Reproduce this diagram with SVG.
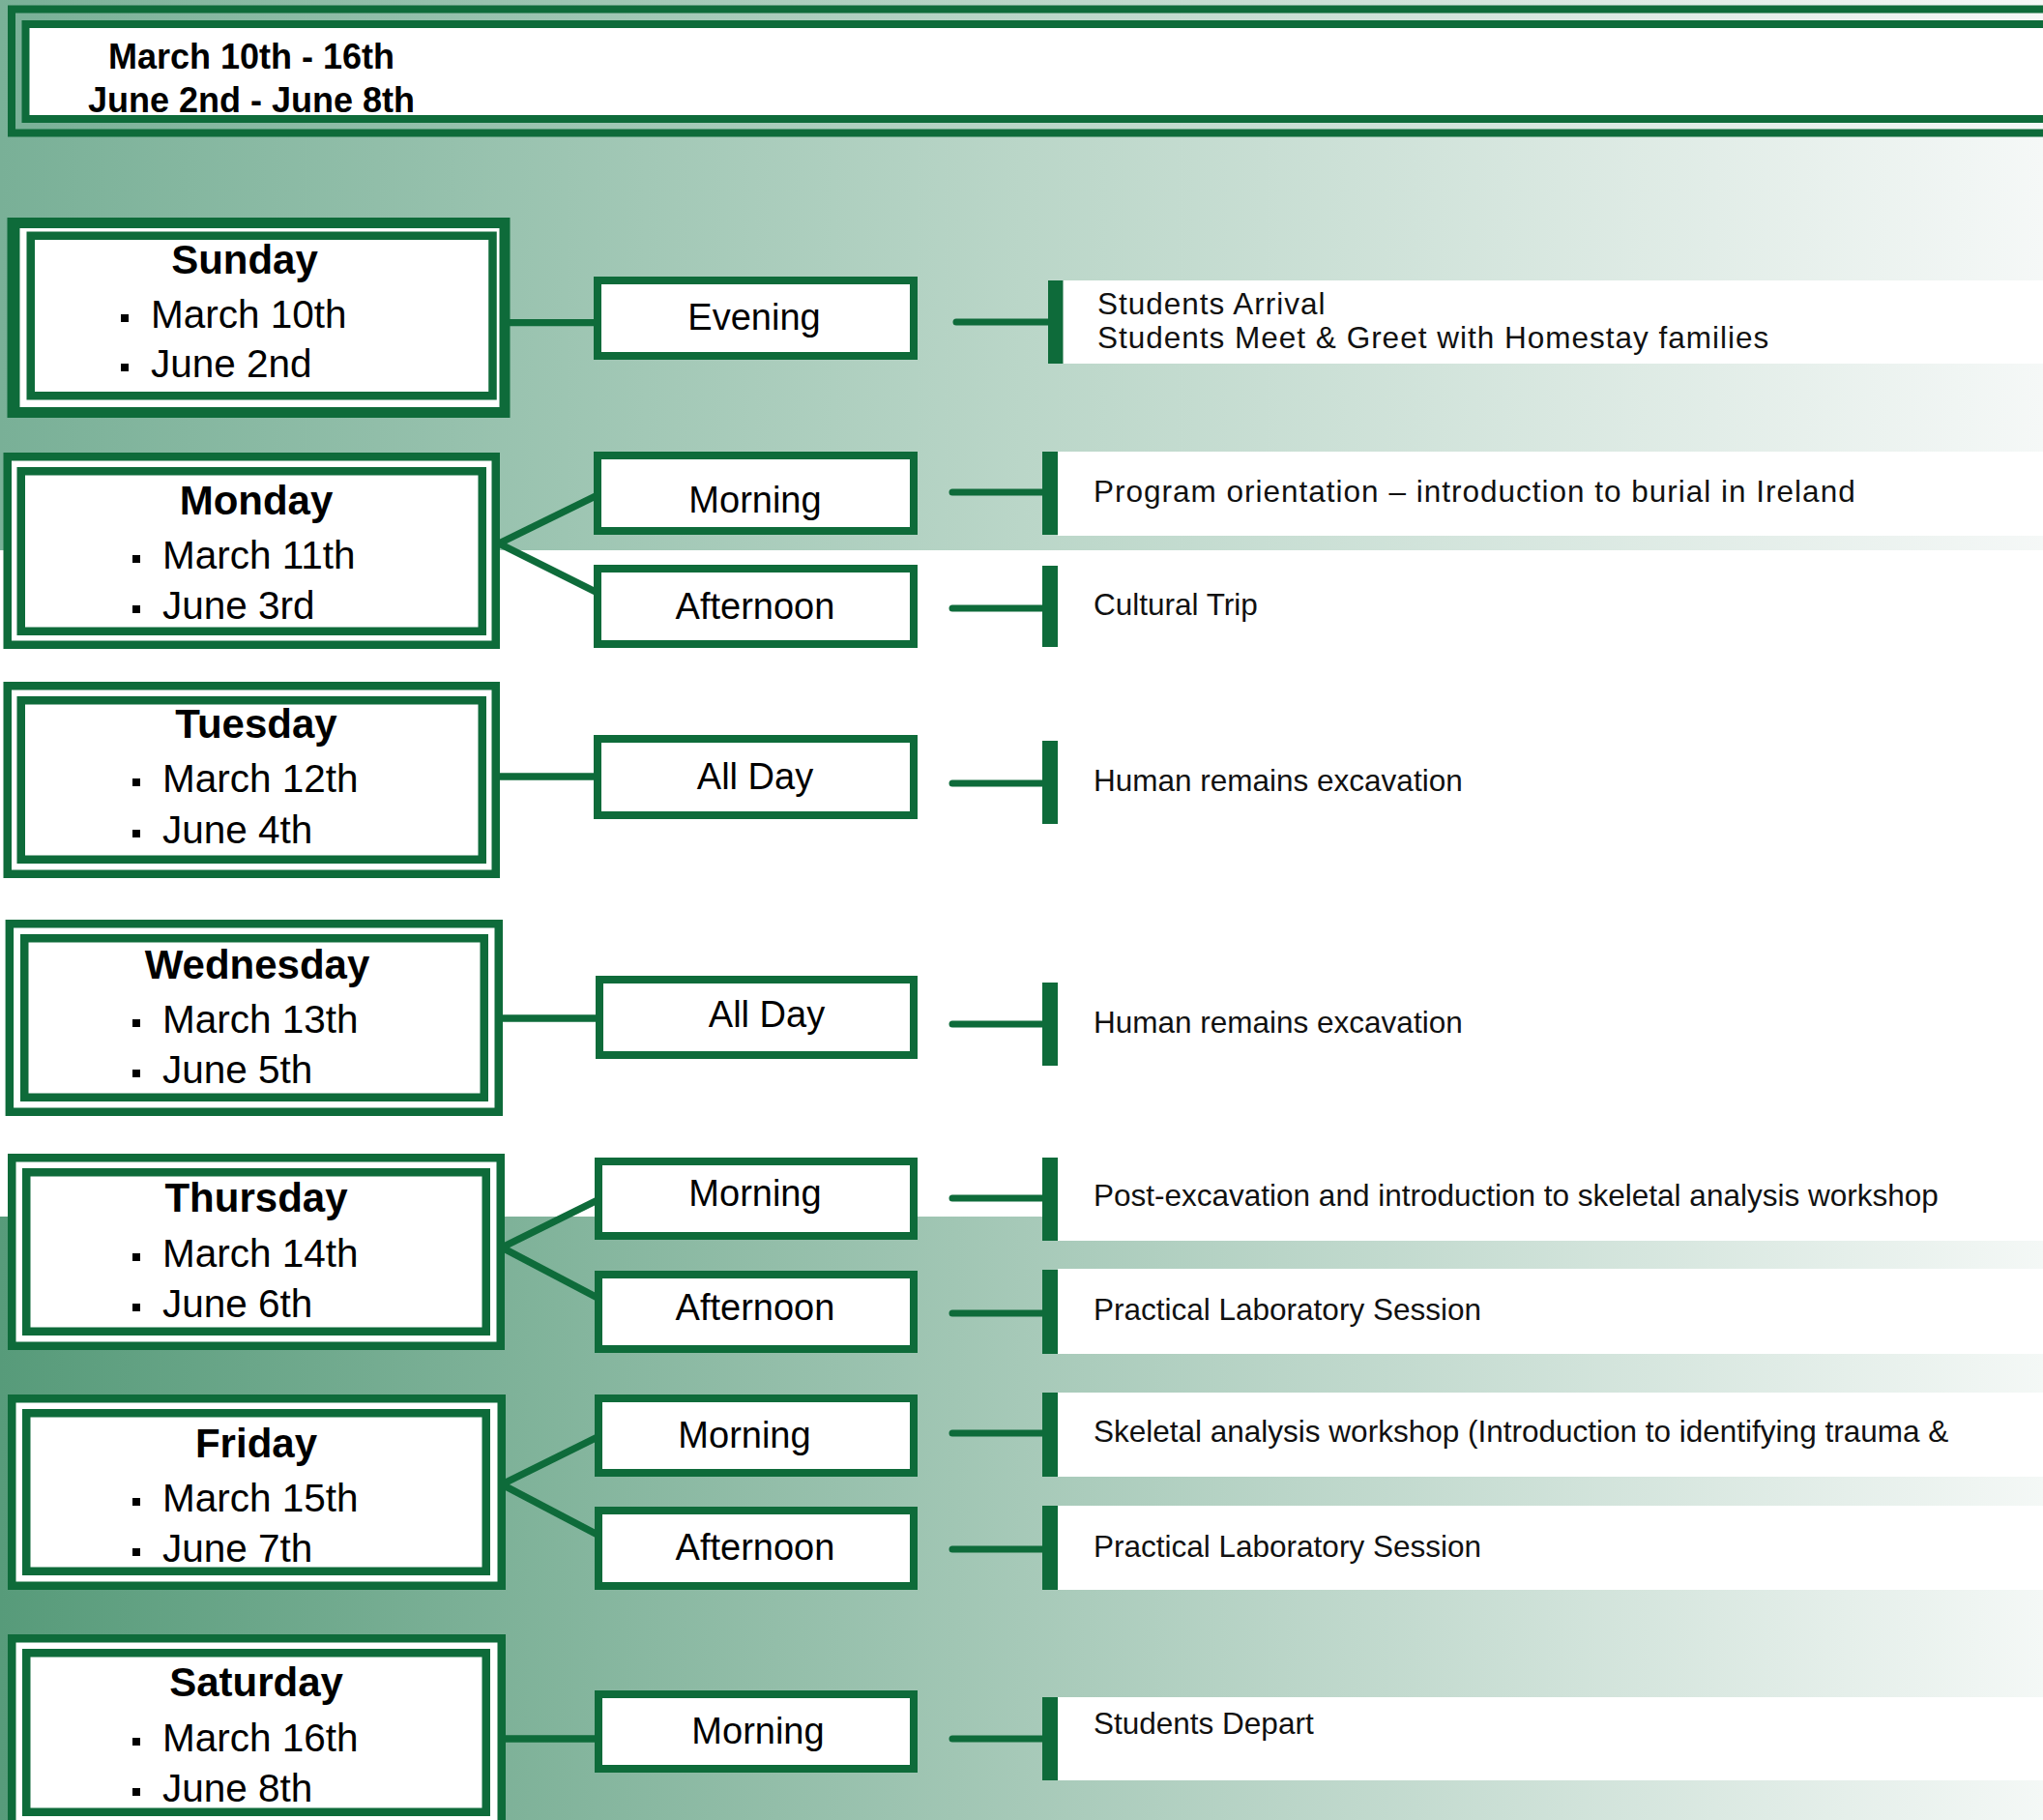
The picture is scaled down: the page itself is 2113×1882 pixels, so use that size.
<svg xmlns="http://www.w3.org/2000/svg" width="2113" height="1882" viewBox="0 0 2113 1882">
<defs>
<linearGradient id="gTop" x1="0" y1="0" x2="1" y2="0">
<stop offset="0" stop-color="#79b097"/>
<stop offset="0.5" stop-color="#bad6c8"/>
<stop offset="1" stop-color="#f5f8f7"/>
</linearGradient>
<linearGradient id="gBot" x1="0" y1="0" x2="1" y2="0">
<stop offset="0" stop-color="#579b7a"/>
<stop offset="0.5" stop-color="#a6c9b8"/>
<stop offset="1" stop-color="#f4f8f6"/>
</linearGradient>
<style>
.g{fill:#0e6b3a}
.w{fill:#ffffff}
.box{fill:#ffffff;stroke:#0e6b3a;stroke-width:8.5}
.opt{fill:#ffffff;stroke:#0e6b3a;stroke-width:8}
.day{font-family:"Liberation Sans",Arial,sans-serif;font-weight:bold;font-size:42px;text-anchor:middle;fill:#000}
.date{font-family:"Liberation Sans",Arial,sans-serif;font-size:40.5px;fill:#000}
.optt{font-family:"Liberation Sans",Arial,sans-serif;font-size:38px;text-anchor:middle;fill:#000}
.desc{font-family:"Liberation Sans",Arial,sans-serif;font-size:31.5px;fill:#111}
.head{font-family:"Liberation Sans",Arial,sans-serif;font-weight:bold;font-size:36px;text-anchor:middle;fill:#000}
.conn{stroke:#0e6b3a;stroke-width:7.3;fill:none}
.rc{stroke:#0e6b3a;stroke-width:7;fill:none;stroke-linecap:round}
.band{fill:#ffffff}
</style>
</defs>

<g id="background">
<rect x="0" y="0" width="2113" height="1882" fill="#ffffff"/>
<rect x="0" y="0" width="2113" height="569" fill="url(#gTop)"/>
<rect x="0" y="1258" width="2113" height="624" fill="url(#gBot)"/>
</g>

<g id="bands">
<rect class="band" x="1099" y="290" width="1014" height="86"/>
<rect class="band" x="1094" y="467" width="1019" height="87"/>
<rect class="band" x="1094" y="585" width="1019" height="84"/>
<rect class="band" x="1094" y="766" width="1019" height="86"/>
<rect class="band" x="1094" y="1016" width="1019" height="86"/>
<rect class="band" x="1094" y="1197" width="1019" height="86"/>
<rect class="band" x="1094" y="1312" width="1019" height="88"/>
<rect class="band" x="1094" y="1440" width="1019" height="87"/>
<rect class="band" x="1094" y="1557" width="1019" height="87"/>
<rect class="band" x="1094" y="1755" width="1019" height="86"/>
</g>

<g id="header">
<rect x="12" y="9.5" width="2200" height="128" fill="none" stroke="#0e6b3a" stroke-width="8"/>
<rect x="26.5" y="25" width="2200" height="98" fill="#ffffff" stroke="#0e6b3a" stroke-width="8"/>
<text class="head" x="260" y="71">March 10th - 16th</text>
<text class="head" x="260" y="116">June 2nd - June 8th</text>
</g>

<g id="connectors">
<line class="conn" x1="527" y1="333.7" x2="616" y2="333.7"/>
<line class="conn" x1="516" y1="562" x2="618" y2="512"/>
<line class="conn" x1="516" y1="562" x2="618" y2="613"/>
<line class="conn" x1="517" y1="803" x2="616" y2="803"/>
<line class="conn" x1="520" y1="1053" x2="618" y2="1053"/>
<line class="conn" x1="519" y1="1290" x2="618" y2="1241"/>
<line class="conn" x1="519" y1="1290" x2="618" y2="1342"/>
<line class="conn" x1="519" y1="1535" x2="618" y2="1486"/>
<line class="conn" x1="519" y1="1535" x2="618" y2="1587"/>
<line class="conn" x1="523" y1="1798" x2="617" y2="1798"/>

<line class="rc" x1="989" y1="333" x2="1088" y2="333"/>
<rect class="g" x="1084" y="290" width="15.5" height="86"/>
<line class="rc" x1="985" y1="509" x2="1082" y2="509"/>
<rect class="g" x="1078" y="467" width="16" height="86"/>
<line class="rc" x1="985" y1="629" x2="1082" y2="629"/>
<rect class="g" x="1078" y="585" width="16" height="84"/>
<line class="rc" x1="985" y1="810" x2="1082" y2="810"/>
<rect class="g" x="1078" y="766" width="16" height="86"/>
<line class="rc" x1="985" y1="1059" x2="1082" y2="1059"/>
<rect class="g" x="1078" y="1016" width="16" height="86"/>
<line class="rc" x1="985" y1="1239" x2="1082" y2="1239"/>
<rect class="g" x="1078" y="1197" width="16" height="86"/>
<line class="rc" x1="985" y1="1358" x2="1082" y2="1358"/>
<rect class="g" x="1078" y="1313" width="16" height="87"/>
<line class="rc" x1="985" y1="1482" x2="1082" y2="1482"/>
<rect class="g" x="1078" y="1440" width="16" height="87"/>
<line class="rc" x1="985" y1="1602" x2="1082" y2="1602"/>
<rect class="g" x="1078" y="1557" width="16" height="87"/>
<line class="rc" x1="985" y1="1798" x2="1082" y2="1798"/>
<rect class="g" x="1078" y="1755" width="16" height="86"/>
</g>

<g id="sunday">
<rect class="g" x="7.5" y="225" width="520" height="207"/>
<rect class="w" x="20.5" y="236" width="496" height="185"/>
<rect class="box" x="31.75" y="243.75" width="477.75" height="165.5" stroke-width="7.5"/>
<text class="day" x="253" y="283">Sunday</text>
<rect x="125" y="325" width="8" height="8" fill="#000"/>
<text class="date" x="156" y="339" font-size="41.5">March 10th</text>
<rect x="125" y="376" width="8" height="8" fill="#000"/>
<text class="date" x="156" y="390" font-size="41.5">June 2nd</text>
</g>

<g id="monday">
<rect class="box" x="7.75" y="472.25" width="505" height="194.5"/>
<rect class="box" x="21.75" y="487.25" width="477" height="165.5"/>
<text class="day" x="265" y="532">Monday</text>
<rect x="137" y="574" width="8" height="8" fill="#000"/>
<text class="date" x="168" y="588">March 11th</text>
<rect x="137" y="626" width="8" height="8" fill="#000"/>
<text class="date" x="168" y="640">June 3rd</text>
</g>

<g id="tuesday">
<rect class="box" x="7.75" y="709.25" width="505" height="194.5"/>
<rect class="box" x="21.75" y="724.25" width="477" height="164.5"/>
<text class="day" x="265" y="763">Tuesday</text>
<rect x="137" y="805" width="8" height="8" fill="#000"/>
<text class="date" x="168" y="819">March 12th</text>
<rect x="137" y="858" width="8" height="8" fill="#000"/>
<text class="date" x="168" y="872">June 4th</text>
</g>

<g id="wednesday">
<rect class="box" x="9.85" y="955.25" width="505.9" height="194.5"/>
<rect class="box" x="25.25" y="970.25" width="475.5" height="164.5"/>
<text class="day" x="266" y="1012">Wednesday</text>
<rect x="137" y="1054" width="8" height="8" fill="#000"/>
<text class="date" x="168" y="1068">March 13th</text>
<rect x="137" y="1106" width="8" height="8" fill="#000"/>
<text class="date" x="168" y="1120">June 5th</text>
</g>

<g id="thursday">
<rect class="box" x="12.25" y="1197.25" width="505.5" height="194.5"/>
<rect class="box" x="27.25" y="1212.25" width="475.5" height="164.5"/>
<text class="day" x="265" y="1253">Thursday</text>
<rect x="137" y="1296" width="8" height="8" fill="#000"/>
<text class="date" x="168" y="1310">March 14th</text>
<rect x="137" y="1348" width="8" height="8" fill="#000"/>
<text class="date" x="168" y="1362">June 6th</text>
</g>

<g id="friday">
<rect class="box" x="12.25" y="1446.25" width="506.5" height="193.5"/>
<rect class="box" x="27.25" y="1461.25" width="475.5" height="163.5"/>
<text class="day" x="265" y="1507">Friday</text>
<rect x="137" y="1549" width="8" height="8" fill="#000"/>
<text class="date" x="168" y="1563">March 15th</text>
<rect x="137" y="1601" width="8" height="8" fill="#000"/>
<text class="date" x="168" y="1615">June 7th</text>
</g>

<g id="saturday">
<rect class="box" x="12.25" y="1694.25" width="506.5" height="194.5"/>
<rect class="box" x="27.25" y="1709.25" width="475.5" height="164.5"/>
<text class="day" x="265" y="1754">Saturday</text>
<rect x="137" y="1797" width="8" height="8" fill="#000"/>
<text class="date" x="168" y="1811">March 16th</text>
<rect x="137" y="1849" width="8" height="8" fill="#000"/>
<text class="date" x="168" y="1863">June 8th</text>
</g>

<g id="sun-evening">
<rect class="opt" x="618" y="290" width="327" height="78"/>
<text class="optt" x="780" y="341">Evening</text>
</g>
<g id="mon-morning">
<rect class="opt" x="618" y="471" width="327" height="78"/>
<text class="optt" x="781" y="530">Morning</text>
</g>
<g id="mon-afternoon">
<rect class="opt" x="618" y="588" width="327" height="78"/>
<text class="optt" x="781" y="640">Afternoon</text>
</g>
<g id="tue-allday">
<rect class="opt" x="618" y="764" width="327" height="79"/>
<text class="optt" x="781" y="816">All Day</text>
</g>
<g id="wed-allday">
<rect class="opt" x="620" y="1013" width="325" height="78"/>
<text class="optt" x="793" y="1062">All Day</text>
</g>
<g id="thu-morning">
<rect class="opt" x="619" y="1201" width="326" height="77"/>
<text class="optt" x="781" y="1247">Morning</text>
</g>
<g id="thu-afternoon">
<rect class="opt" x="619" y="1318" width="326" height="77"/>
<text class="optt" x="781" y="1365">Afternoon</text>
</g>
<g id="fri-morning">
<rect class="opt" x="619" y="1446" width="326" height="77"/>
<text class="optt" x="770" y="1497">Morning</text>
</g>
<g id="fri-afternoon">
<rect class="opt" x="619" y="1562" width="326" height="78"/>
<text class="optt" x="781" y="1613">Afternoon</text>
</g>
<g id="sat-morning">
<rect class="opt" x="619" y="1752" width="326" height="77"/>
<text class="optt" x="784" y="1803">Morning</text>
</g>

<g id="descriptions">
<text class="desc" x="1135" y="325" font-size="31" letter-spacing="1">Students Arrival</text>
<text class="desc" x="1135" y="360" font-size="31" letter-spacing="1">Students Meet &amp; Greet with Homestay families</text>
<text class="desc" x="1131" y="519" font-size="33.5" letter-spacing="1">Program orientation – introduction to burial in Ireland</text>
<text class="desc" x="1131" y="636">Cultural Trip</text>
<text class="desc" x="1131" y="818" font-size="31">Human remains excavation</text>
<text class="desc" x="1131" y="1068" font-size="31">Human remains excavation</text>
<text class="desc" x="1131" y="1247" font-size="31">Post-excavation and introduction to skeletal analysis workshop</text>
<text class="desc" x="1131" y="1365" font-size="30.4">Practical Laboratory Session</text>
<text class="desc" x="1131" y="1491">Skeletal analysis workshop (Introduction to identifying trauma &amp;</text>
<text class="desc" x="1131" y="1610" font-size="30.4">Practical Laboratory Session</text>
<text class="desc" x="1131" y="1793">Students Depart</text>
</g>
</svg>
